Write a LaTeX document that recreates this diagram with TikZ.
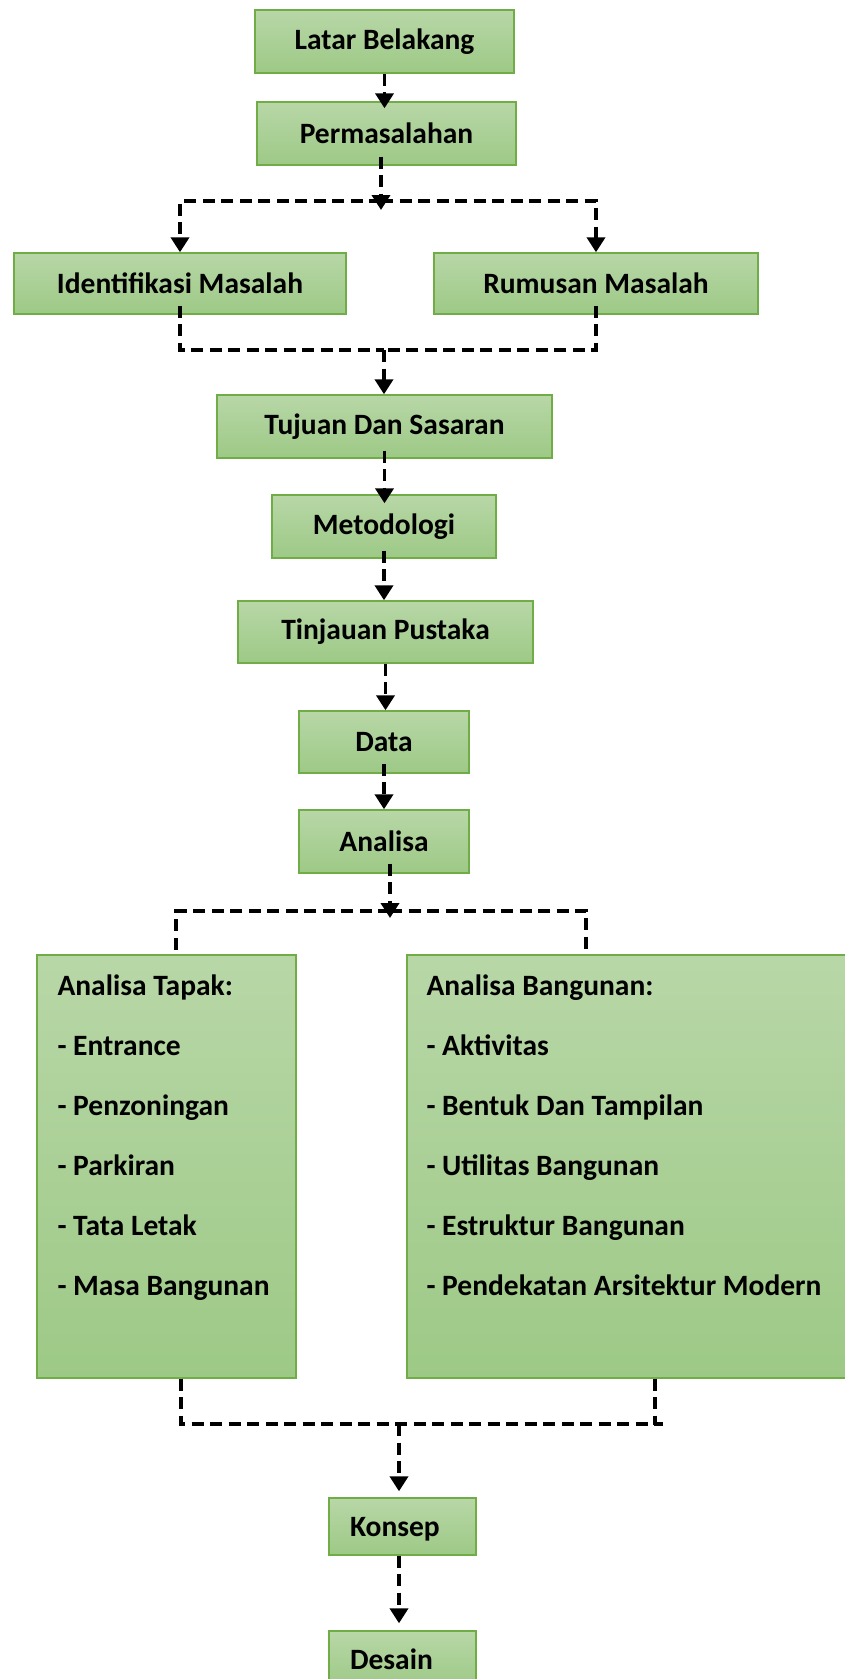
\documentclass[tikz,border=0pt]{standalone}
\usepackage{fontspec}
\setmainfont{Carlito}
\usetikzlibrary{arrows.meta}

\definecolor{boxtop}{RGB}{184,215,167}
\definecolor{boxbottom}{RGB}{157,201,134}
\definecolor{boxline}{RGB}{112,173,71}

\tikzset{
  stage/.style={draw=boxline, line width=1.4pt, top color=boxtop, bottom color=boxbottom,
    font=\bfseries\fontsize{29.5}{36}\selectfont, inner sep=0pt},
  flow/.style={line width=3.8pt, dash pattern=on 12pt off 6.5pt},
  flowarrow/.style={flow, -{Triangle[width=18pt,length=15pt]}},
  listing/.style={font=\bfseries\fontsize{29.5}{60}\selectfont, align=left, inner sep=0pt, anchor=north west}
}

\begin{document}
\begin{tikzpicture}[x=1pt,y=-1pt]
\useasboundingbox (0,0) rectangle (845,1679);

% upper boxes
\node[stage, minimum width=259pt, minimum height=63pt] (latar) at (384.5,41.5) {Latar Belakang};
\node[stage, minimum width=259pt, minimum height=63pt] (masalah) at (386.5,133.5) {Permasalahan};
\node[stage, minimum width=332pt, minimum height=61pt] (identifikasi) at (180,283.5) {Identifikasi Masalah};
\node[stage, minimum width=324pt, minimum height=61pt] (rumusan) at (596,283.5) {Rumusan Masalah};
\node[stage, minimum width=335pt, minimum height=63pt] (tujuan) at (384.5,426.5) {Tujuan Dan Sasaran};
\node[stage, minimum width=224pt, minimum height=63pt] (metodologi) at (384,526.5) {Metodologi};
\node[stage, minimum width=295pt, minimum height=62pt] (tinjauan) at (385.5,632) {Tinjauan Pustaka};
\node[stage, minimum width=170pt, minimum height=62pt] (data) at (384,742) {Data};
\node[stage, minimum width=170pt, minimum height=63pt] (analisa) at (384,841.5) {Analisa};

% analysis boxes
\node[stage, minimum width=259pt, minimum height=423pt] (tapak) at (166.5,1166.5) {};
\node[stage, minimum width=473pt, minimum height=423pt] (bangunan) at (643.5,1166.5) {};
\node[listing] (tapaklist) at ([xshift=21pt,yshift=-19pt]tapak.north west)
  {\rule{0pt}{22pt}Analisa Tapak:\\- Entrance\\- Penzoningan\\- Parkiran\\- Tata Letak\\- Masa Bangunan};
\node[listing] (bangunanlist) at ([xshift=20pt,yshift=-19pt]bangunan.north west)
  {\rule{0pt}{22pt}Analisa Bangunan:\\- Aktivitas\\- Bentuk Dan Tampilan\\- Utilitas Bangunan\\- Estruktur Bangunan\\- Pendekatan Arsitektur Modern};

% lower boxes
\node[stage, text width=105pt, align=left, inner xsep=21pt, text height=20pt, text depth=0pt,
  minimum height=57pt] (konsep) at (402.5,1526.5) {Konsep};
\node[stage, text width=105pt, align=left, inner xsep=21pt, text height=20pt, text depth=0pt,
  minimum height=57pt] (desain) at (402.5,1659.5) {Desain};

% branch points
\coordinate (fork1) at (381,201);
\coordinate (join1) at (384,350);
\coordinate (fork2) at (390,911);
\coordinate (join2) at (399,1424);
\coordinate (join2end) at (663,1424);

% connectors
\draw[flowarrow] (latar.south) -- ([yshift=-7pt]latar.south |- masalah.north);
\draw[flowarrow] ([yshift=9pt]masalah.south -| fork1) -- ([yshift=-9pt]fork1);
\draw[flowarrow] (fork1) -| (identifikasi.north);
\draw[flowarrow] (fork1) -| (rumusan.north);
\draw[flow] ([yshift=9pt]identifikasi.south) |- (join1);
\draw[flow] ([yshift=9pt]rumusan.south) |- (join1);
\draw[flowarrow] (join1) -- (join1 |- tujuan.north);
\draw[flowarrow] ([yshift=8pt]tujuan.south) -- ([yshift=-9pt]tujuan.south |- metodologi.north);
\draw[flowarrow] ([yshift=8pt]metodologi.south) -- (metodologi.south |- tinjauan.north);
\draw[flowarrow] (tinjauan.south) -- (tinjauan.south |- data.north);
\draw[flowarrow] ([yshift=10pt]data.south) -- (data.south |- analisa.north);
\draw[flowarrow] ([yshift=10pt]analisa.south -| fork2) -- ([yshift=-7pt]fork2);
\draw[flow] (fork2) -| ([xshift=140pt]tapak.north west);
\draw[flow] (fork2) -| ([xshift=180pt]bangunan.north west);
\draw[flow] ([xshift=145pt]tapak.south west) |- (join2end);
\draw[flow] ([xshift=249pt]bangunan.south west) -- ++(0,46);
\draw[flowarrow] (join2) -- ([yshift=6pt]join2 |- konsep.north);
\draw[flowarrow] (konsep.south -| join2) -- ([yshift=7pt]join2 |- desain.north);

\end{tikzpicture}
\end{document}
